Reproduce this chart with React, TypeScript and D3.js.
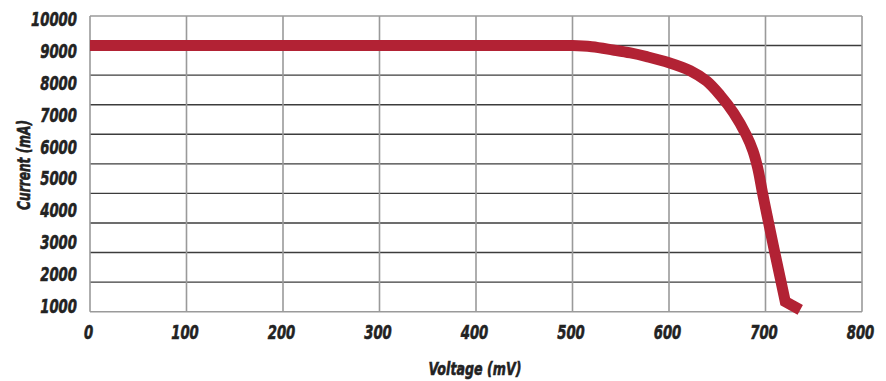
import React from "react";
import * as d3 from "d3";

const voltage = [0, 480, 500, 520, 542, 560, 577, 600, 622, 639, 653, 667, 680, 687, 692, 697, 702, 708, 720.5, 736];
const current = [9000, 9000, 9000, 8960, 8850, 8750, 8624, 8420, 8150, 7800, 7320, 6720, 5980, 5440, 4850, 4000, 3200, 2250, 340, 60];
const xTicks = [0, 100, 200, 300, 400, 500, 600, 700, 800];
const yGrid = [0, 1000, 2000, 3000, 4000, 5000, 6000, 7000, 8000, 9000, 10000];
const yLabels = ["10000", "9000", "8000", "7000", "6000", "5000", "4000", "3000", "2000", "1000"];

const W = 886;
const H = 381;
const FONT = "'DejaVu Sans', sans-serif";
const DIGIT_W = 9.2;

export default function App() {
  const x = d3.scaleLinear().domain([0, 800]).range([90, 862]);
  const y = d3.scaleLinear().domain([0, 10000]).range([311.7, 16]);
  const yLab = d3.scalePoint<string>().domain(yLabels).range([26, 313]);
  const pts: [number, number][] = voltage.map((v, i) => [v, current[i]]);
  const smooth = pts.slice(0, pts.length - 1);
  const last = pts[pts.length - 1];
  const line = d3
    .line<[number, number]>()
    .x((d) => x(d[0]))
    .y((d) => y(d[1]))
    .curve(d3.curveCatmullRom.alpha(0.5));
  const d = (line(smooth) || "") + `L${x(last[0])},${y(last[1])}`;

  return (
    <svg
      width={W}
      height={H}
      style={{ position: "absolute", left: 0, top: 0, background: "#fff" }}
    >
      {yGrid.map((g) => {
        const edge = g === 0 || g === 10000;
        return (
          <line
            key={"h" + g}
            x1={x(0)}
            x2={x(800)}
            y1={y(g)}
            y2={y(g)}
            stroke={edge ? "#9a9a9a" : "#3c3c3c"}
            strokeWidth={edge ? 1.6 : 1.4}
          />
        );
      })}
      {xTicks.map((t) => (
        <line
          key={"v" + t}
          x1={x(t)}
          x2={x(t)}
          y1={y(10000)}
          y2={y(0)}
          stroke="#9a9a9a"
          strokeWidth={1.6}
        />
      ))}
      <path
        d={d}
        fill="none"
        stroke="#b22234"
        strokeWidth={11}
        strokeLinejoin="miter"
        strokeLinecap="butt"
      />
      <g
        fontFamily={FONT}
        fontWeight="bold"
        fontStyle="italic"
        fill="#222"
        stroke="#222"
        strokeWidth={0.6}
        fontSize={19}
      >
        {yLabels.map((l) => (
          <text
            key={"yl" + l}
            x={77}
            y={yLab(l)}
            textAnchor="end"
            textLength={l.length * DIGIT_W}
            lengthAdjust="spacingAndGlyphs"
          >
            {l}
          </text>
        ))}
        {xTicks.map((t) => (
          <text
            key={"xl" + t}
            x={x(t) - 1.5}
            y={339}
            textAnchor="middle"
            textLength={String(t).length * DIGIT_W}
            lengthAdjust="spacingAndGlyphs"
          >
            {t}
          </text>
        ))}
        <text
          x={475}
          y={375}
          textAnchor="middle"
          fontSize={18}
          textLength={93}
          lengthAdjust="spacingAndGlyphs"
        >
          Voltage (mV)
        </text>
        <text
          transform={`translate(30,165) rotate(-90)`}
          textAnchor="middle"
          fontSize={18}
          textLength={90}
          lengthAdjust="spacingAndGlyphs"
        >
          Current (mA)
        </text>
      </g>
    </svg>
  );
}
